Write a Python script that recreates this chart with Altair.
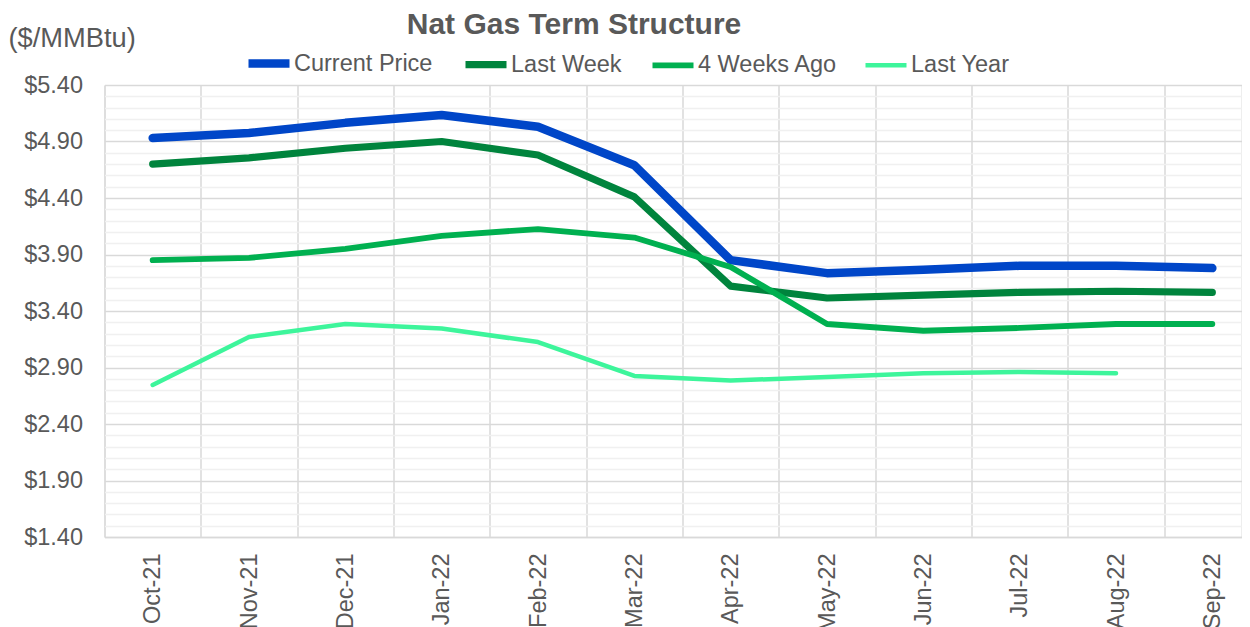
import altair as alt
import pandas as pd

months = ["Oct-21", "Nov-21", "Dec-21", "Jan-22", "Feb-22", "Mar-22",
          "Apr-22", "May-22", "Jun-22", "Jul-22", "Aug-22", "Sep-22"]
current_price = [4.93, 4.975, 5.065, 5.135, 5.03, 4.69, 3.85, 3.735, 3.765, 3.80, 3.80, 3.78]
last_week = [4.70, 4.755, 4.84, 4.90, 4.78, 4.41, 3.62, 3.515, 3.54, 3.565, 3.575, 3.565]
four_weeks_ago = [3.85, 3.87, 3.95, 4.065, 4.125, 4.05, 3.79, 3.285, 3.225, 3.25, 3.285, 3.285]
last_year = [2.745, 3.17, 3.285, 3.245, 3.125, 2.825, 2.785, 2.815, 2.85, 2.86, 2.85, None]

series_names = ["Current Price", "Last Week", "4 Weeks Ago", "Last Year"]
series_values = [current_price, last_week, four_weeks_ago, last_year]
series_colors = ["#0046C8", "#00843D", "#00B050", "#3DF59B"]
series_widths = [8.5, 4.5, 3.25, 2.5]

major_ticks = [1.4, 1.9, 2.4, 2.9, 3.4, 3.9, 4.4, 4.9, 5.4]
minor_ticks = [round(1.4 + 0.1 * i, 2) for i in range(41) if i % 5 != 0]

rows = []
for s_i, (name, vals) in enumerate(zip(series_names, series_values)):
    for m_i, (m, v) in enumerate(zip(months, vals)):
        if v is not None:
            rows.append({"series": name, "s_order": s_i, "month": m, "idx": m_i, "price": v})
df = pd.DataFrame(rows)

FONT = "Liberation Sans"
TXT = "#595959"
GRID = "#D9D9D9"

yscale = alt.Scale(domain=[1.4, 5.4], nice=False, zero=False)
# the plot area runs past the right edge of the picture, as in the reference
xscale = alt.Scale(type="band", domain=months, paddingInner=0, paddingOuter=0, range=[0, 1156])

x_enc = alt.X(
    "month:N", scale=xscale, bandPosition=0.5,
    axis=alt.Axis(title=None, tickBand="extent", labelAngle=-90, labelAlign="right",
                  labelBaseline="middle", labelPadding=16, labelFontSize=23.5,
                  labelColor=TXT, labelFont=FONT, ticks=False, domain=True,
                  domainColor=GRID, domainWidth=1.5, grid=True, gridColor=GRID,
                  gridWidth=1.5),
)

legend = alt.Legend(
    title=None, orient="none", legendX=139.5, legendY=-46.5, direction="horizontal",
    columns=4, symbolType="stroke", symbolSize=1681, labelFontSize=23.5,
    labelColor=TXT, labelFont=FONT, columnPadding=18, labelOffset=0,
)

minor = alt.Chart(df).mark_line(opacity=0).encode(
    x=x_enc,
    y=alt.Y("price:Q", scale=yscale,
            axis=alt.Axis(values=minor_ticks, grid=True, gridColor="#F0F0F0", gridWidth=1.5,
                          labels=False, ticks=False, domain=False, title=None, orient="left")),
)

lines = alt.Chart(df).mark_line(strokeCap="round", strokeJoin="round").encode(
    x=x_enc,
    y=alt.Y("price:Q", scale=yscale,
            axis=alt.Axis(values=major_ticks, format="$.2f", title="($/MMBtu)", titleAngle=0,
                          titleAlign="left", titleBaseline="alphabetic", titleX=-96.5,
                          titleY=-38.5, titleFontSize=27.3, titleFontWeight="normal",
                          titleColor=TXT, titleFont=FONT, labelFontSize=23.5, labelColor=TXT,
                          labelFont=FONT, labelPadding=22, ticks=False, domain=False,
                          grid=True, gridColor=GRID, gridWidth=1.5, orient="left")),
    color=alt.Color("series:N", scale=alt.Scale(domain=series_names, range=series_colors),
                    legend=legend),
    strokeWidth=alt.StrokeWidth("series:N",
                                scale=alt.Scale(domain=series_names, range=series_widths),
                                legend=legend),
    detail="s_order:O",
    order="idx:Q",
)

chart = alt.layer(minor, lines).resolve_axis(y="independent").properties(
    width=1137, height=452,
    autosize=alt.AutoSizeParams(type="none"),
    padding={"left": 96.5, "top": 77, "right": 0, "bottom": 90},
    title=alt.TitleParams("Nat Gas Term Structure", font=FONT, fontSize=30,
                          fontWeight="bold", color=TXT, anchor="middle", frame="group",
                          dx=-99, dy=19),
).configure_view(stroke=None).configure(background="white")

chart.save("out.html", embed_options={"renderer": "svg", "actions": False})
